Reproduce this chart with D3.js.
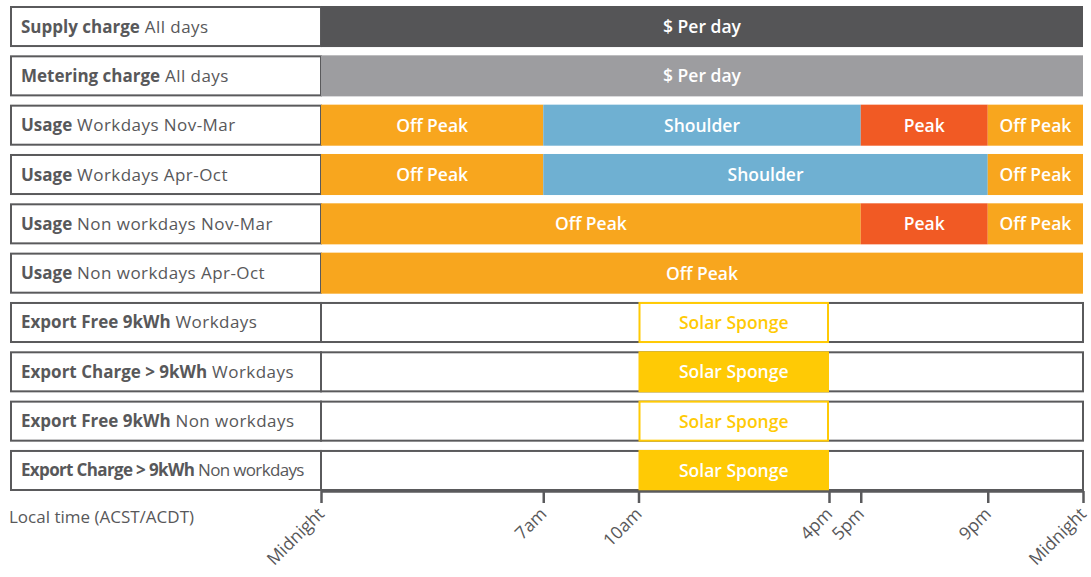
<!DOCTYPE html>
<meta charset="utf-8">
<style>
  body { margin: 0; background: #fff; }
  svg { font-family: "Open Sans", "Noto Sans", sans-serif; }
</style>
<script src="https://d3js.org/d3.v7.min.js"></script>
<div id="chart"></div>
<script>
// Row labels (bold part + plain part)
var rowBold = ["Supply charge", "Metering charge", "Usage", "Usage", "Usage", "Usage",
  "Export Free 9kWh", "Export Charge > 9kWh", "Export Free 9kWh", "Export Charge > 9kWh"];
var rowRest = ["All days", "All days", "Workdays Nov-Mar", "Workdays Apr-Oct",
  "Non workdays Nov-Mar", "Non workdays Apr-Oct", "Workdays", "Workdays",
  "Non workdays", "Non workdays"];
// Rows that get an empty framed timeline behind them
var framedRows = [6, 7, 8, 9];

// Segments: row, start hour, end hour, kind
var segRow   = [0, 1, 2, 2, 2, 2, 3, 3, 3, 4, 4, 4, 5, 6, 7, 8, 9];
var segStart = [0, 0, 0, 7, 17, 21, 0, 7, 21, 0, 17, 21, 0, 10, 10, 10, 10];
var segEnd   = [24, 24, 7, 17, 21, 24, 7, 21, 24, 17, 21, 24, 24, 16, 16, 16, 16];
var segKind  = ["supply", "meter", "off", "shoulder", "peak", "off", "off", "shoulder", "off",
  "off", "peak", "off", "off", "solarFree", "solar", "solarFree", "solar"];

var kindText = {supply: "$ Per day", meter: "$ Per day", off: "Off Peak", shoulder: "Shoulder",
  peak: "Peak", solar: "Solar Sponge", solarFree: "Solar Sponge"};
var kindFill = {supply: "#555557", meter: "#9d9da0", off: "#f8a61e", shoulder: "#6fb0d2",
  peak: "#f15a24", solar: "#ffca05", solarFree: "#ffffff"};

// Axis
var tickHours  = [0, 7, 10, 16, 17, 21, 24];
var tickLabels = ["Midnight", "7am", "10am", "4pm", "5pm", "9pm", "Midnight"];

var W = 1091, H = 577;
var grey = "#5a5a5c";
var svg = d3.select("#chart").append("svg").attr("width", W).attr("height", H);

var x = d3.scaleLinear().domain([0, 24]).range([321, 1083]);
var y = d3.scaleBand().domain(d3.range(rowBold.length)).range([6, 491]).paddingInner(0.168).paddingOuter(0);

// label boxes
var rows = svg.selectAll("g.row").data(d3.range(rowBold.length)).enter().append("g").attr("class", "row");
rows.append("rect")
  .attr("x", 11).attr("y", function(d) { return y(d) + 1; })
  .attr("width", 310).attr("height", y.bandwidth() - 2)
  .attr("fill", "#fff").attr("stroke", grey).attr("stroke-width", 2);

rows.append("text")
  .attr("x", 21).attr("y", function(d) { return y(d) + y.bandwidth() / 2 + 6; })
  .attr("fill", "#58585a").attr("font-size", 17)
  .attr("letter-spacing", function(d) { return d === 9 ? -0.65 : 0; })
  .each(function(d) {
    var t = d3.select(this);
    t.append("tspan").attr("font-weight", "bold").text(rowBold[d]);
    t.append("tspan").attr("letter-spacing", d === 9 ? -0.65 : 0.45).text(" " + rowRest[d]);
  });

// framed empty timelines
svg.selectAll("rect.frame").data(framedRows).enter().append("rect")
  .attr("class", "frame")
  .attr("x", x(0)).attr("y", function(d) { return y(d) + 1; })
  .attr("width", x(24) - x(0)).attr("height", y.bandwidth() - 2)
  .attr("fill", "#fff").attr("stroke", grey).attr("stroke-width", 2);

// segments
var segs = d3.range(segRow.length);
svg.selectAll("rect.seg").data(segs).enter().append("rect")
  .attr("class", "seg")
  .attr("x", function(i) { return x(segStart[i]) + (segKind[i] === "solarFree" ? 1 : 0); })
  .attr("y", function(i) { return y(segRow[i]) + (segKind[i] === "solarFree" ? 1 : 0); })
  .attr("width", function(i) { return x(segEnd[i]) - x(segStart[i]) - (segKind[i] === "solarFree" ? 2 : 0); })
  .attr("height", function(i) { return y.bandwidth() - (segKind[i] === "solarFree" ? 2 : 0); })
  .attr("fill", function(i) { return kindFill[segKind[i]]; })
  .attr("stroke", function(i) { return segKind[i] === "solarFree" ? "#ffca05" : "none"; })
  .attr("stroke-width", 2);

svg.selectAll("text.seg").data(segs).enter().append("text")
  .attr("class", "seg")
  .attr("x", function(i) { return (x(segStart[i]) + x(segEnd[i])) / 2; })
  .attr("y", function(i) { return y(segRow[i]) + y.bandwidth() / 2 + 6.5; })
  .attr("text-anchor", "middle")
  .attr("font-size", 17.5).attr("font-weight", 600)
  .attr("fill", function(i) { return segKind[i] === "solarFree" ? "#ffca05" : "#fff"; })
  .text(function(i) { return kindText[segKind[i]]; });

// axis
var axis = d3.axisBottom(x).tickValues(tickHours)
  .tickFormat(function(d, i) { return tickLabels[i]; })
  .tickSize(12).tickSizeOuter(0);
var ag = svg.append("g").attr("transform", "translate(0,491)").call(axis);
ag.select(".domain").attr("stroke", grey).attr("stroke-width", 2.5);
ag.selectAll(".tick line").attr("stroke", grey).attr("stroke-width", 2.5);
ag.selectAll(".tick text")
  .attr("font-family", "'Open Sans', 'Noto Sans', sans-serif")
  .attr("font-size", 17.5).attr("fill", "#58585a")
  .attr("text-anchor", "end")
  .attr("x", 0).attr("y", 0).attr("dx", 0).attr("dy", 0)
  .attr("transform", "translate(4,24) rotate(-45)");

svg.append("text").attr("x", 9).attr("y", 523)
  .attr("font-size", 17).attr("fill", "#58585a")
  .text("Local time (ACST/ACDT)");
</script>
